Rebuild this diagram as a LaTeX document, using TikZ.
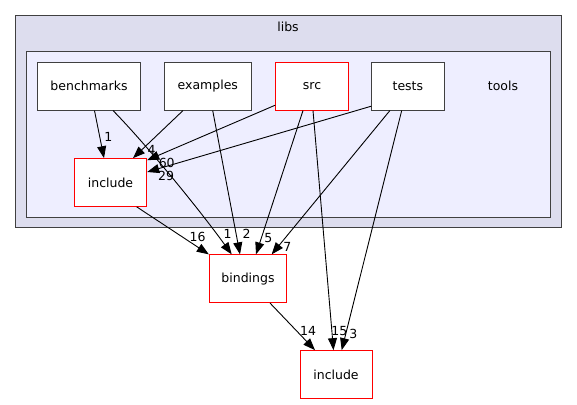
\documentclass[tikz,border=0pt]{standalone}
\usepackage{fontspec}
\setmainfont{DejaVu Sans}
\usetikzlibrary{arrows.meta}
\definecolor{clusterouter}{HTML}{DDDDEE}
\definecolor{clusterinner}{HTML}{EEEEFF}
\definecolor{framegray}{HTML}{404040}
\begin{document}
\begin{tikzpicture}[x=1pt,y=-1pt,
  dirbox/.style={draw=framegray, fill=white, line width=1pt, minimum height=47.7pt, inner sep=0pt, font=\fontsize{12.5}{15}\selectfont},
  redbox/.style={dirbox, draw=red},
  cluster/.style={draw=framegray, line width=1.2pt, inner sep=0pt},
  lbl/.style={font=\fontsize{12.5}{15}\selectfont, inner sep=0pt},
  dep/.style={draw=black, line width=0.9pt, -{Triangle[length=12pt,width=9pt]}}]
\useasboundingbox (0,0) rectangle (577,404);
% clusters
\node[cluster, fill=clusterouter, minimum width=545.6pt, minimum height=212pt] (libs) at (288.5,121.7) {};
\node[lbl] (libslabel) at (288,27) {libs};
\node[cluster, fill=clusterinner, minimum width=524pt, minimum height=165.6pt] (tools) at (288.7,134.5) {};
\node[lbl] (toolslabel) at (503,86.2) {tools};
% directories
\node[dirbox, minimum width=103.4pt] (bench) at (89,86.2) {benchmarks};
\node[dirbox, minimum width=87pt] (examples) at (207.8,86.2) {examples};
\node[redbox, minimum width=72.6pt] (src) at (312,86.2) {src};
\node[dirbox, minimum width=72.3pt] (tests) at (407.9,86.2) {tests};
\node[redbox, minimum width=72.4pt] (inc1) at (110.5,182.5) {include};
\node[redbox, minimum width=77.4pt] (bind) at (248,278.7) {bindings};
\node[redbox, minimum width=72pt] (inc2) at (336,374.5) {include};
% dependencies
\draw[dep] ([xshift=5.5pt]bench.south) -- ([xshift=-6.5pt]inc1.north);
\draw[dep] ([xshift=24pt]bench.south) .. controls (143,141) and (196,205) .. ([xshift=-16.3pt]bind.north);
\draw[dep] ([xshift=-24.8pt]examples.south) -- ([xshift=22.5pt]inc1.north);
\draw[dep] ([xshift=4.9pt]examples.south) -- ([xshift=-8pt]bind.north);
\draw[dep] ([yshift=-19pt]src.west) -- ([yshift=-2pt]inc1.north east);
\draw[dep] ([xshift=-9pt]src.south) -- ([xshift=8pt]bind.north);
\draw[dep] ([xshift=1pt]src.south) -- ([xshift=-2.5pt]inc2.north);
\draw[dep] ([yshift=-20pt]tests.west) -- ([yshift=10.5pt]inc1.east);
\draw[dep] ([xshift=-18pt]tests.south) -- ([xshift=23.7pt]bind.north);
\draw[dep] ([xshift=-6.2pt]tests.south) -- ([xshift=5.7pt]inc2.north);
\draw[dep] ([xshift=26.2pt]inc1.south) -- (bind.north west);
\draw[dep] ([xshift=22pt]bind.south) -- ([xshift=-21pt]inc2.north);
% edge labels
\node[lbl] (n1a) at (108.3,136.7) {1};
\node[lbl] (n1b) at (227.7,233.7) {1};
\node[lbl] (n4) at (151.7,150) {4};
\node[lbl] (n2) at (246.7,233.7) {2};
\node[lbl] (n60) at (166.7,163.3) {60};
\node[lbl] (n5) at (268.3,238.3) {5};
\node[lbl] (n15) at (339.3,331) {15};
\node[lbl] (n29) at (166,176) {29};
\node[lbl] (n7) at (287.3,246.5) {7};
\node[lbl] (n3) at (353.3,333.7) {3};
\node[lbl] (n16) at (197.5,237.2) {16};
\node[lbl] (n14) at (308,331) {14};
\end{tikzpicture}
\end{document}
